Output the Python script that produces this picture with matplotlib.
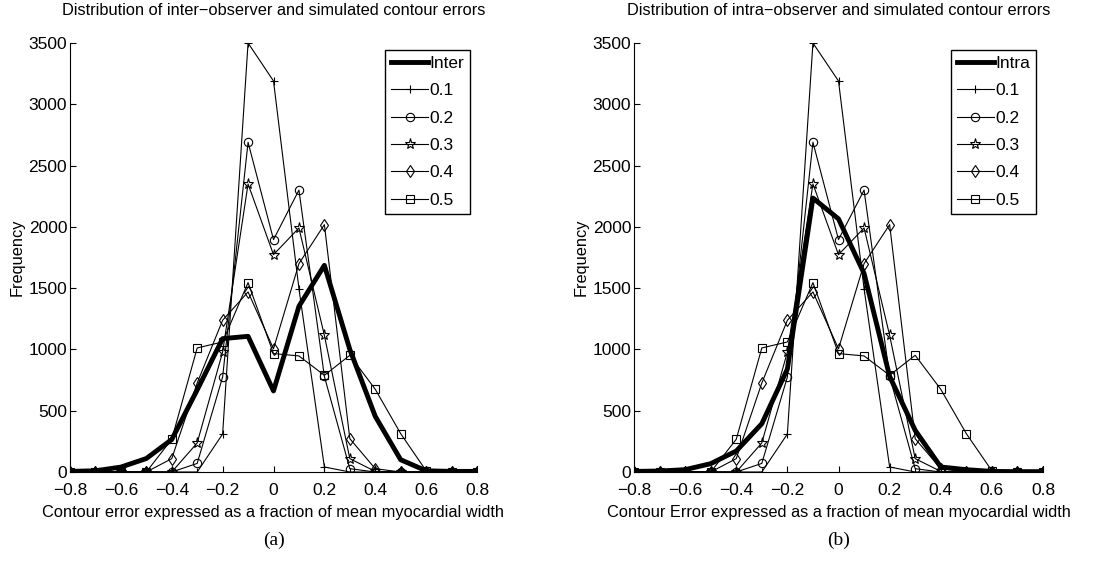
import numpy as np
import matplotlib.pyplot as plt

plt.rcParams['font.family'] = ['Liberation Sans', 'DejaVu Sans']

# --- Data ---
err = np.round(np.arange(-0.8, 0.81, 0.1), 1)

inter = [5, 10, 40, 110, 265, 670, 1088, 1107, 661, 1352, 1686, 1000, 454, 100, 10, 5, 5]
intra = [5, 8, 19, 68, 171, 394, 840, 2235, 2065, 1620, 780, 340, 41, 19, 5, 3, 3]

sim_levels = ['0.1', '0.2', '0.3', '0.4', '0.5']
sim_01 = [0, 0, 0, 0, 0, 0, 310, 3500, 3190, 1496, 41, 0, 0, 0, 0, 0, 0]
sim_02 = [0, 0, 0, 0, 0, 70, 775, 2690, 1896, 2300, 780, 27, 0, 0, 0, 0, 0]
sim_03 = [0, 0, 0, 0, 0, 237, 979, 2350, 1773, 1991, 1115, 109, 5, 0, 0, 0, 0]
sim_04 = [0, 0, 0, 0, 109, 726, 1238, 1469, 1005, 1700, 2018, 272, 27, 0, 0, 0, 0]
sim_05 = [0, 0, 0, 0, 267, 1012, 1061, 1545, 966, 947, 789, 952, 675, 313, 10, 0, 0]
sims = [sim_01, sim_02, sim_03, sim_04, sim_05]
markers = ['+', 'o', '*', 'd', 's']

titles = ['Distribution of inter\u2212observer and simulated contour errors',
          'Distribution of intra\u2212observer and simulated contour errors']
xlabels = ['Contour error expressed as a fraction of mean myocardial width',
           'Contour Error expressed as a fraction of mean myocardial width']
obs_names = ['Inter', 'Intra']
panel = ['(a)', '(b)']
xticks = [-0.8, -0.6, -0.4, -0.2, 0, 0.2, 0.4, 0.6, 0.8]
xticklabels = ['\u22120.8', '\u22120.6', '\u22120.4', '\u22120.2', '0', '0.2', '0.4', '0.6', '0.8']

fig = plt.figure(figsize=(10.99, 5.71), dpi=100)
W, H = 1099, 571
axes_px = [(70, 43, 407, 429), (634, 43, 409, 429)]

for i, obs in enumerate([inter, intra]):
    x0, y0, w, h = axes_px[i]
    ax = fig.add_axes([x0 / W, 1 - (y0 + h) / H, w / W, h / H])
    ax.plot(err, obs, color='black', lw=3.5, label=obs_names[i], zorder=3)
    for vals, mk, lab in zip(sims, markers, sim_levels):
        ms = 8 if mk == '*' else 6
        ax.plot(err, vals, color='black', lw=0.8, marker=mk, ms=ms,
                mfc='none', mec='black', mew=0.8, label=lab)
    ax.set_xlim(-0.8, 0.8)
    ax.set_ylim(0, 3500)
    ax.set_xticks(xticks)
    ax.set_xticklabels(xticklabels)
    ax.set_yticks(np.arange(0, 3501, 500))
    for s in ['top', 'right']:
        ax.spines[s].set_visible(False)
    ax.tick_params(direction='in', length=4, labelsize=12.5, width=0.8)
    ax.tick_params(axis='x', pad=8)
    ax.tick_params(axis='y', pad=2)
    ax.set_title(titles[i], fontsize=11.8, pad=20)
    ax.set_xlabel(xlabels[i], fontsize=11.8, labelpad=5)
    ax.set_ylabel('Frequency', fontsize=11.8, labelpad=3)
    leg = ax.legend(loc='upper right', bbox_to_anchor=(1.005, 1.004), fontsize=12.5,
                    handlelength=2.1, handletextpad=0.1, borderpad=0.35,
                    labelspacing=0.7, fancybox=False, framealpha=1)
    leg.get_frame().set_edgecolor('black')
    leg.get_frame().set_linewidth(1.0)
    fig.text((x0 + w / 2) / W, 1 - 540 / H, panel[i], ha='center', va='center',
             fontsize=14, family=['Liberation Serif', 'DejaVu Serif'])

fig.savefig('out.png', dpi=100)
